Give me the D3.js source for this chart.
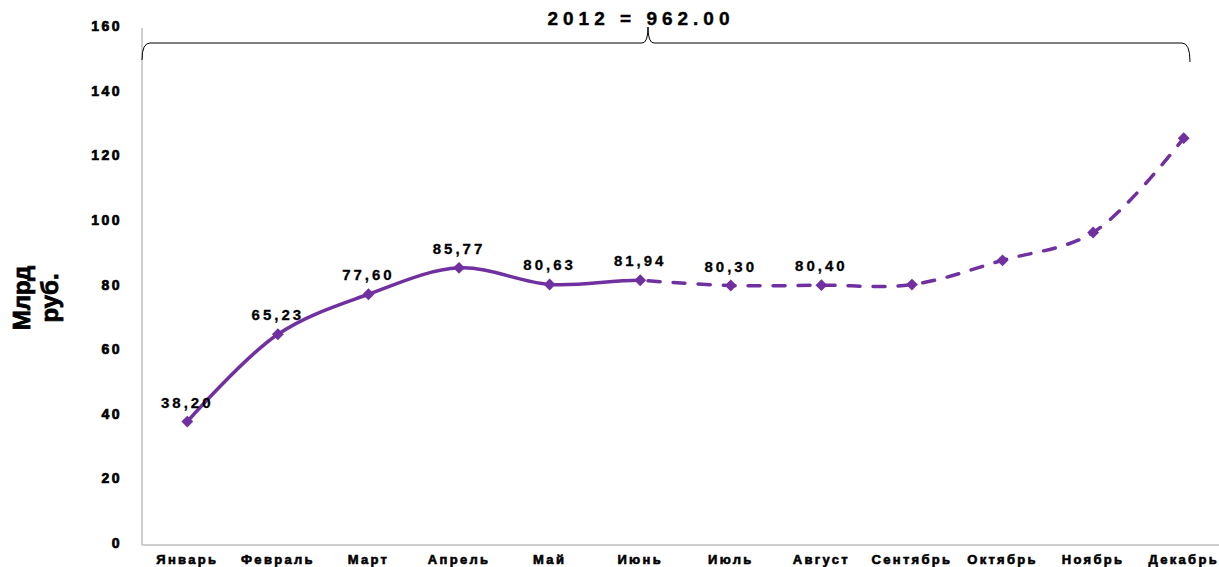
<!DOCTYPE html>
<html>
<head>
<meta charset="utf-8">
<script src="https://cdn.jsdelivr.net/npm/d3@7"></script>
<style>
  body { margin: 0; background: #fff; }
  svg text { font-family: "Liberation Sans", Arial, sans-serif; font-weight: bold; }
</style>
</head>
<body>
<svg id="chart" width="1219" height="567"></svg>
<script>
// months and values (Jan-Aug are fact, Sep-Dec)
const months = ["Январь", "Февраль", "Март", "Апрель", "Май", "Июнь",
  "Июль", "Август", "Сентябрь", "Октябрь", "Ноябрь", "Декабрь"];
const values = [38.20, 65.23, 77.60, 85.77, 80.63, 81.94, 80.30, 80.40, 80.6, 88.1, 96.7, 125.9];
const labels = ["38,20", "65,23", "77,60", "85,77", "80,63", "81,94", "80,30", "80,40"];
const yTicks = [0, 20, 40, 60, 80, 100, 120, 140, 160];
const splitIndex = 5; // solid line up to June, dashed after
const title = "2012 = 962.00";

const purple = "#7030A0";
const svg = d3.select("#chart");

const x = d3.scaleBand().domain(months).range([142, 1229]);
const y = d3.scaleLinear().domain([0, 160]).range([545, 28]);
const cx = d => x(d) + x.bandwidth() / 2;

// axes lines
svg.append("line")
  .attr("x1", 142).attr("x2", 142).attr("y1", 28).attr("y2", 545)
  .attr("stroke", "#bfbfbf").attr("stroke-width", 1.5);
svg.append("line")
  .attr("x1", 142).attr("x2", 1219).attr("y1", 545).attr("y2", 545)
  .attr("stroke", "#bfbfbf").attr("stroke-width", 1.5);

// y tick labels
svg.selectAll(".ytick")
  .data(yTicks)
  .enter().append("text")
  .attr("class", "ytick")
  .attr("x", 122)
  .attr("y", d => y(d) + 3)
  .attr("text-anchor", "end")
  .attr("font-size", 14)
  .attr("letter-spacing", 2.5)
  .attr("stroke", "#000").attr("stroke-width", 0.7)
  .text(d => d);

// x tick labels
svg.selectAll(".xtick")
  .data(months)
  .enter().append("text")
  .attr("class", "xtick")
  .attr("x", d => cx(d))
  .attr("y", 564)
  .attr("text-anchor", "middle")
  .attr("font-size", 13)
  .attr("letter-spacing", 2.3)
  .attr("stroke", "#000").attr("stroke-width", 0.6)
  .text(d => d);

// y axis title
const yt = svg.append("text")
  .attr("transform", "translate(36,298) rotate(-90)")
  .attr("text-anchor", "middle")
  .attr("font-size", 24)
  .attr("stroke", "#000").attr("stroke-width", 0.8);
yt.append("tspan").attr("x", 0).attr("dy", -6).text("Млрд");
yt.append("tspan").attr("x", 0).attr("dy", 28).text("руб.");

// smooth line, split into solid and dashed by clipping
const pts = values.map((v, i) => [cx(months[i]), y(v)]);
const line = d3.line().curve(d3.curveCatmullRom.alpha(0.5));
const splitX = pts[splitIndex][0];

const defs = svg.append("defs");
defs.append("clipPath").attr("id", "clipSolid")
  .append("rect").attr("x", 0).attr("y", 0).attr("width", splitX).attr("height", 567);

svg.append("path")
  .attr("d", line(pts))
  .attr("fill", "none")
  .attr("stroke", purple)
  .attr("stroke-width", 3.5)
  .attr("clip-path", "url(#clipSolid)");

svg.append("path")
  .attr("d", line(pts.slice(splitIndex)))
  .attr("fill", "none")
  .attr("stroke", purple)
  .attr("stroke-width", 3.5)
  .attr("stroke-linecap", "round")
  .attr("stroke-dasharray", "12,13")
  .attr("stroke-dashoffset", -8);

// diamond markers
svg.selectAll(".marker")
  .data(pts)
  .enter().append("path")
  .attr("class", "marker")
  .attr("d", d3.symbol().type(d3.symbolSquare).size(70))
  .attr("transform", d => `translate(${d[0]},${d[1]}) rotate(45)`)
  .attr("fill", purple);

// data labels
svg.selectAll(".dlabel")
  .data(labels)
  .enter().append("text")
  .attr("class", "dlabel")
  .attr("x", (d, i) => pts[i][0])
  .attr("y", (d, i) => pts[i][1] - 14)
  .attr("text-anchor", "middle")
  .attr("font-size", 15)
  .attr("letter-spacing", 3)
  .attr("stroke", "#000").attr("stroke-width", 0.3)
  .text(d => d);

// brace over the year
const bl = 142, br = 1190, bm = 648, by = 43;
const brace = `M${bl},60 Q${bl},${by} ${bl + 8},${by} L${bm - 6},${by} Q${bm},${by} ${bm},27 ` +
  `Q${bm},${by} ${bm + 6},${by} L${br - 8},${by} Q${br},${by} ${br},62`;
svg.append("path")
  .attr("d", brace)
  .attr("fill", "none")
  .attr("stroke", "#000")
  .attr("stroke-width", 1);

svg.append("text")
  .attr("x", 641)
  .attr("y", 25)
  .attr("text-anchor", "middle")
  .attr("font-size", 19)
  .attr("letter-spacing", 5)
  .attr("stroke", "#000").attr("stroke-width", 0.4)
  .text(title);
</script>
</body>
</html>
